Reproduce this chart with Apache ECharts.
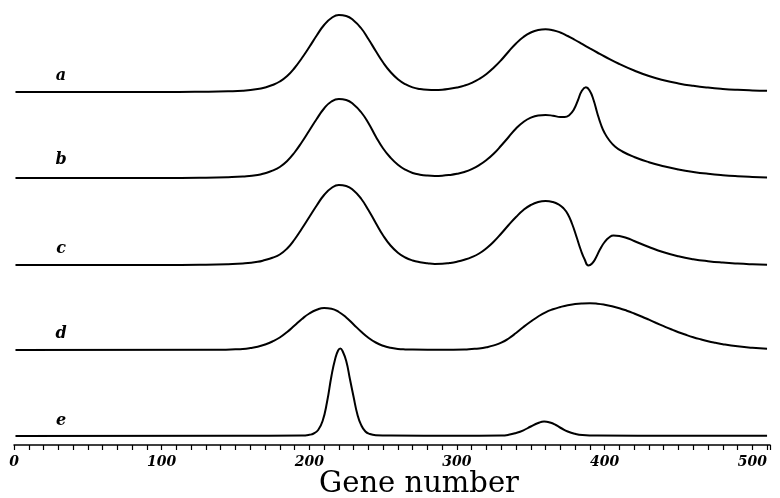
<!DOCTYPE html>
<html><head><meta charset="utf-8">
<script src="https://cdn.jsdelivr.net/npm/echarts@6/dist/echarts.min.js"></script>
<style>html,body{margin:0;padding:0;background:#fff}#c{width:780px;height:498px}</style>
</head><body><div id="c"></div>
<script>
// gene number, relative intensity
const curveA = [[1,0],[100,0],[130,0.3],[145,0.7],[155,1.3],[165,2.9],[170,4.5],[175,7],[180,10.5],[185,16],[190,24],[195,34],[200,45],[205,56.5],[210,67],[215,74],[220,77],[225,76],[230,71.5],[235,64],[240,53],[245,41],[250,29.5],[255,20],[260,12.8],[265,7.8],[270,4.6],[275,3],[280,2.2],[285,2],[290,2.3],[295,3.2],[300,4.5],[305,6.4],[310,9.2],[315,13],[320,18],[325,24.5],[330,32],[335,40.5],[340,48.5],[345,55],[350,59.5],[355,62],[360,62.7],[365,61.8],[370,59.5],[375,56],[380,52],[385,47.8],[390,43.6],[395,39.5],[400,35.5],[410,28],[420,21.5],[430,16],[440,11.8],[450,8.6],[460,6.2],[470,4.4],[480,3.1],[490,2.2],[500,1.6],[510,1.2]];
const curveB = [[1,0],[100,0],[130,0.3],[145,0.8],[155,1.5],[165,3],[170,4.8],[175,7.3],[180,11],[185,17],[190,25.5],[195,36],[200,47.5],[205,59],[210,69.5],[215,76.5],[220,79],[225,78],[230,73.5],[235,66],[240,55],[245,41.5],[250,29.5],[255,20.3],[260,13.3],[265,8.3],[270,5],[275,3.3],[280,2.4],[285,2.1],[290,2.3],[295,3],[300,4.2],[305,6],[310,8.8],[315,12.8],[320,18],[325,24.5],[330,32.5],[335,41],[340,49.5],[345,56],[350,60.3],[355,62.5],[360,63],[365,62.3],[370,61],[373,61],[376,62.8],[379,68],[382,78],[384.5,87],[387.3,90.7],[390,87],[392.5,78],[395,65],[397.5,53.5],[400,45],[403,38],[407,31.5],[412,26.5],[420,21],[430,15.8],[440,11.8],[450,8.6],[460,6.1],[470,4.2],[480,2.8],[490,1.8],[500,1.1],[510,0.6]];
const curveC = [[1,0],[100,0],[130,0.3],[145,0.8],[155,1.5],[165,3.2],[170,5],[175,7.3],[180,10.5],[185,16.5],[190,25.5],[195,36.5],[200,48],[205,59.5],[210,70],[215,77],[220,80],[225,79],[230,74.5],[235,66.5],[240,55],[245,42],[250,29.5],[255,19.5],[260,12.3],[265,7.5],[270,4.5],[275,2.8],[280,1.7],[285,1.1],[290,1.2],[295,2],[300,3.3],[305,5.2],[310,7.8],[315,11.5],[320,16.8],[325,23.5],[330,31.5],[335,40],[340,48],[345,55],[350,60],[355,63],[360,64],[365,63],[369,60.5],[372,57],[375,51],[378,41],[381,28],[384,14.5],[386.5,5.5],[389,-0.5],[391.5,1.5],[394,7],[397,16],[400,23],[403,27.5],[406,29.5],[410,29],[415,27],[420,24],[430,18],[440,12.7],[450,8.7],[460,5.8],[470,3.8],[480,2.4],[490,1.4],[500,0.7],[510,0.2]];
const curveD = [[1,0],[140,0.3],[150,0.7],[155,1.1],[160,2],[165,3.3],[170,5.5],[175,8.5],[180,12.5],[185,18],[190,24.5],[195,31],[200,36.5],[205,40.2],[210,42],[215,41.3],[220,38],[225,32.5],[230,25.5],[235,18.5],[240,12.3],[245,7.5],[250,4.2],[255,2.2],[260,1.1],[265,0.6],[270,0.4],[290,0.3],[305,0.5],[310,1],[315,1.6],[320,2.8],[325,4.6],[330,7.3],[335,11.5],[340,17],[345,23],[350,28.5],[355,33.5],[360,37.7],[365,40.7],[370,43],[375,44.8],[380,45.9],[385,46.5],[390,46.7],[395,46.3],[400,45.3],[405,43.8],[410,41.8],[415,39.3],[420,36.5],[425,33.5],[430,30.3],[435,27],[440,23.8],[445,20.7],[450,17.8],[455,15.2],[460,12.8],[465,10.7],[470,8.8],[475,7.2],[480,5.8],[490,3.7],[500,2.2],[510,1.2]];
const curveE = [[1,0],[150,0.3],[195,0.5],[200,1.2],[203,2.5],[206,6],[209,15],[212,34],[215,60],[217.5,77],[219.5,85.5],[221,87.5],[222.5,85],[225,75],[227.5,57],[230,39],[232.5,22],[235,11.3],[238,4.5],[241,2],[245,0.8],[255,0.4],[300,0.3],[330,0.5],[335,1.2],[340,3],[345,5.7],[350,9.5],[355,13],[359,14.5],[363,13.5],[367,11],[371,7.5],[375,4.5],[380,2.2],[385,1],[395,0.4],[450,0.3],[510,0.3]];
const curves = [curveA, curveB, curveC, curveD, curveE];
const curveNames = ['a', 'b', 'c', 'd', 'e'];
const tickLabels = [0, 100, 200, 300, 400, 500];
const xMin = 0, xMax = 512;
const axisTitle = 'Gene number';

// layout (pixels)
const baselines = [92, 178, 265, 350, 436];
const labelPos = [[61, 76], [61, 160], [61, 249], [61, 334], [61, 421]];

const chart = echarts.init(document.getElementById('c'));
const grids = [], xAxes = [], yAxes = [], series = [];
curves.forEach((d, i) => {
  grids.push({left: 14, right: 10, top: baselines[i] - 80, height: 80});
  xAxes.push({type: 'value', gridIndex: i, min: xMin, max: xMax, show: false});
  yAxes.push({type: 'value', gridIndex: i, min: 0, max: 80, show: false});
  series.push({type: 'line', name: curveNames[i], xAxisIndex: i, yAxisIndex: i, data: d,
    showSymbol: false, smooth: 0.5, clip: false,
    lineStyle: {color: '#000', width: 2}});
});
grids.push({left: 14, right: 10, top: 400, bottom: 53});
xAxes.push({type: 'value', gridIndex: 5, min: xMin, max: xMax, interval: 10,
  axisLine: {show: true, lineStyle: {color: '#000', width: 1.5}},
  axisTick: {show: true, length: 5, lineStyle: {color: '#000', width: 1.2}},
  splitLine: {show: false},
  axisLabel: {show: true, margin: 10, color: '#000', fontFamily: 'DejaVu Serif', fontStyle: 'italic', fontWeight: 'bold', fontSize: 14,
    formatter: v => tickLabels.includes(v) ? String(v) : ''}});
yAxes.push({type: 'value', gridIndex: 5, min: 0, max: 1, show: false});

const graphics = curveNames.map((n, i) => ({
  type: 'text', x: labelPos[i][0], y: labelPos[i][1],
  style: {text: n, fill: '#000', font: 'italic bold 16px "DejaVu Serif"', align: 'center', verticalAlign: 'middle'}
}));
graphics.push({type: 'text', x: 419, y: 484,
  style: {text: axisTitle, fill: '#000', font: '29px "DejaVu Serif"', align: 'center', verticalAlign: 'middle'}});

chart.setOption({
  animation: false,
  backgroundColor: '#fff',
  grid: grids, xAxis: xAxes, yAxis: yAxes, series: series,
  graphic: graphics
});
</script></body></html>
